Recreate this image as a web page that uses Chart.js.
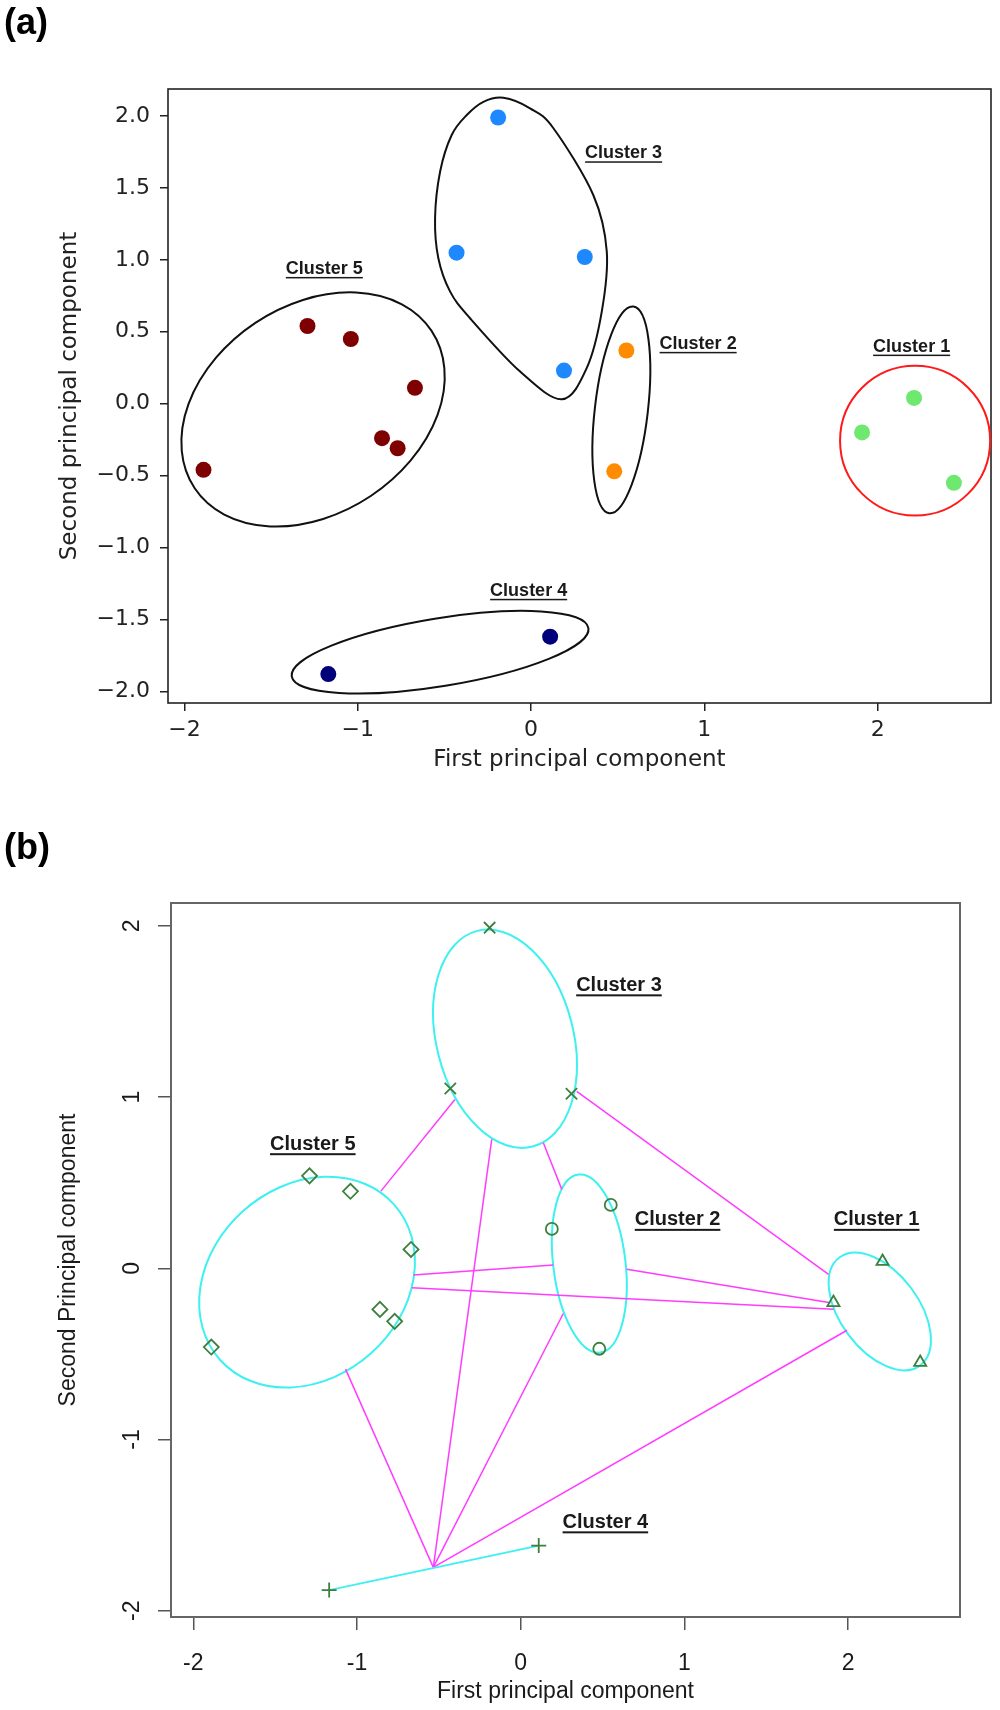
<!DOCTYPE html>
<html>
<head>
<meta charset="utf-8">
<title>PCA clusters</title>
<script src="https://cdn.jsdelivr.net/npm/chart.js@4.4.1/dist/chart.umd.min.js"></script>
<style>
  html, body { margin: 0; padding: 0; background: #fff; }
  #wrap { width: 1000px; height: 1710px; }
  canvas { display: block; }
</style>
</head>
<body>
<div id="wrap">
  <canvas id="panelA" width="1000" height="790"></canvas>
  <canvas id="panelB" width="1000" height="920"></canvas>
</div>
<script>
// scores on the first two principal components, one entry per sample
const pc1 = [2.21, 1.91, 2.44, 0.55, 0.48, 0.19, -0.19, -0.43, 0.31, -1.17, 0.11, -1.29, -1.04, -0.67, -0.86, -0.77, -1.89];
const pc2 = [0.04, -0.20, -0.55, 0.37, -0.47, 0.23, 1.99, 1.05, 1.02, -1.88, -1.62, 0.54, 0.45, 0.11, -0.24, -0.31, -0.46];

// cluster of each sample in (a) and in (b)
const clusterA = [1, 1, 1, 2, 2, 3, 3, 3, 3, 4, 4, 5, 5, 5, 5, 5, 5];
const clusterB = [1, 1, 1, 2, 2, 2, 3, 3, 3, 4, 4, 5, 5, 5, 5, 5, 5];
const clusterNames = ['Cluster 1', 'Cluster 2', 'Cluster 3', 'Cluster 4', 'Cluster 5'];

const ticksAx = [-2, -1, 0, 1, 2];
const ticksAy = [-2, -1.5, -1, -0.5, 0, 0.5, 1, 1.5, 2];
const ticksBx = [-2, -1, 0, 1, 2];
const ticksBy = [-2, -1, 0, 1, 2];

// (a) outlines drawn round the clusters: cluster, centre x, centre y, semi-axis u (x, y), semi-axis v (x, y)
const outlineA = [
  [1, 2.216, -0.257, 0.433, 0, 0, 0.521],
  [2, 0.521, -0.043, 0.069, 0.718, 0.152, -0.021],
  [4, -0.525, -1.728, 0.856, 0.168, 0.031, -0.233],
  [5, -1.258, -0.040, 0.683, 0.548, -0.333, 0.602]
];
// (a) the cluster 3 outline is egg shaped, traced point by point
const outline3x = [-0.160, -0.006, 0.129, 0.359, 0.437, 0.408, 0.321, 0.177, -0.063, -0.352, -0.467, -0.535, -0.554, -0.525, -0.458, -0.371, -0.275];
const outline3y = [2.127, 2.054, 1.915, 1.451, 1.057, 0.640, 0.247, 0.031, 0.223, 0.594, 0.779, 1.011, 1.289, 1.613, 1.868, 2.007, 2.099];

// (b) clusplot ellipses: cluster, centre x, centre y, semi-axis u (x, y), semi-axis v (x, y)
const ellipseB = [
  [1, 2.193, -0.252, -0.247, 0.315, 0.191, 0.137],
  [2, 0.419, 0.028, -0.066, 0.520, 0.219, 0.025],
  [3, -0.096, 1.341, -0.169, 0.630, 0.405, 0.099],
  [5, -1.305, -0.081, 0.532, 0.453, 0.389, -0.417]
];
// (b) segments between the clusters: x1, y1, x2, y2
const linksB = [
  [-0.854, 0.451, -0.402, 0.986],   // 5 - 3
  [-0.656, -0.039, 0.199, 0.019],   // 5 - 2
  [-0.666, -0.113, 1.911, -0.239],  // 5 - 1
  [-0.534, -1.747, -1.070, -0.589], // 4 - 5
  [0.138, 0.733, 0.251, 0.461],     // 3 - 2
  [0.342, 1.034, 1.880, -0.035],    // 3 - 1
  [-0.534, -1.747, -0.177, 0.753],  // 4 - 3
  [0.648, -0.006, 1.891, -0.201],   // 2 - 1
  [-0.534, -1.747, 0.260, -0.264],  // 4 - 2
  [-0.534, -1.747, 1.993, -0.362]   // 4 - 1
];

// where the cluster names sit (centre of the text), clusters 1..5
const labelAx = [2.196, 0.964, 0.534, -0.014, -1.193];
const labelAy = [0.397, 0.416, 1.741, -1.301, 0.937];
const labelBx = [2.174, 0.958, 0.600, 0.517, -1.270];
const labelBy = [0.283, 0.283, 1.653, -1.484, 0.725];

// styles
const fontA = "'DejaVu Sans', sans-serif";
const fontB = "'Liberation Sans', Arial, sans-serif";
const colorsA = ['#6ee86e', '#ff8c00', '#1e88ff', '#00007a', '#7f0000'];
const outlineColorsA = { 1: '#ff1a1a', 2: '#111', 3: '#111', 4: '#111', 5: '#111' };
const markerB = {
  1: ['triangle', 7],
  2: ['circle', 6],
  3: ['crossRot', 8],
  4: ['cross', 7.5],
  5: ['rectRot', 7.5]
};
const greenB = '#3d7f3d';
const cyanB = '#3ef0f0';
const magentaB = '#ff3cff';
const sizeB = 23;

function minusSign(v) { return v < 0 ? '\u2212' : ''; }
function fmtA0(v) { return minusSign(v) + Math.abs(v); }
function fmtA1(v) { return minusSign(v) + Math.abs(v).toFixed(1); }
function fmtB(v) { return String(v); }

function pointsOf(clusters, c) {
  return pc1.map((v, i) => ({ x: v, y: pc2[i] })).filter((p, i) => clusters[i] === c);
}

// ---- drawing helpers used by the plugins ----
function strokeEllipse(chart, e, color, width) {
  const { ctx, scales: { x, y } } = chart;
  const [cx, cy, ux, uy, vx, vy] = e;
  const px = x.getPixelForValue(cx), py = y.getPixelForValue(cy);
  ctx.save();
  ctx.beginPath();
  ctx.transform(x.getPixelForValue(cx + ux) - px, y.getPixelForValue(cy + uy) - py,
                x.getPixelForValue(cx + vx) - px, y.getPixelForValue(cy + vy) - py, px, py);
  ctx.arc(0, 0, 1, 0, 2 * Math.PI);
  ctx.restore();
  ctx.save();
  ctx.strokeStyle = color;
  ctx.lineWidth = width;
  ctx.stroke();
  ctx.restore();
}

function strokeClosedCurve(chart, xs, ys, color, width) {
  const { ctx, scales: { x, y } } = chart;
  const pts = xs.map((v, i) => [x.getPixelForValue(v), y.getPixelForValue(ys[i])]);
  const n = pts.length;
  ctx.save();
  ctx.beginPath();
  ctx.moveTo(pts[0][0], pts[0][1]);
  for (let i = 0; i < n; i++) {
    const p0 = pts[(i - 1 + n) % n], p1 = pts[i], p2 = pts[(i + 1) % n], p3 = pts[(i + 2) % n];
    ctx.bezierCurveTo(p1[0] + (p2[0] - p0[0]) / 6, p1[1] + (p2[1] - p0[1]) / 6,
                      p2[0] - (p3[0] - p1[0]) / 6, p2[1] - (p3[1] - p1[1]) / 6,
                      p2[0], p2[1]);
  }
  ctx.closePath();
  ctx.strokeStyle = color;
  ctx.lineWidth = width;
  ctx.stroke();
  ctx.restore();
}

function drawClusterLabel(chart, text, vx, vy, font, size, gap, lw) {
  const { ctx, scales: { x, y } } = chart;
  const px = x.getPixelForValue(vx), py = y.getPixelForValue(vy);
  ctx.save();
  ctx.font = 'bold ' + size + 'px ' + font;
  ctx.fillStyle = '#1a1a1a';
  ctx.textAlign = 'center';
  ctx.textBaseline = 'middle';
  ctx.fillText(text, px, py);
  const w = ctx.measureText(text).width;
  ctx.fillRect(px - w / 2, py + gap, w, lw);
  ctx.restore();
}

function drawPanelLetter(chart, text, baseline) {
  const ctx = chart.ctx;
  ctx.save();
  ctx.font = "bold 36px 'Liberation Sans', Arial, sans-serif";
  ctx.fillStyle = '#000';
  ctx.textAlign = 'left';
  ctx.textBaseline = 'alphabetic';
  ctx.fillText(text, 4, baseline);
  ctx.restore();
}

function frame(chart, color, width) {
  const { ctx, chartArea: a } = chart;
  ctx.save();
  ctx.strokeStyle = color;
  ctx.lineWidth = width;
  ctx.strokeRect(a.left, a.top, a.right - a.left, a.bottom - a.top);
  ctx.restore();
}

// ---- panel (a) ----
const plotA = {
  id: 'plotA',
  beforeDatasetsDraw(chart) {
    frame(chart, '#222', 1.6);
    outlineA.forEach(o => strokeEllipse(chart, o.slice(1), outlineColorsA[o[0]], 2));
    strokeClosedCurve(chart, outline3x, outline3y, '#111', 2);
  },
  afterDraw(chart) {
    clusterNames.forEach((t, i) => drawClusterLabel(chart, t, labelAx[i], labelAy[i], fontB, 18, 8, 1.5));
    drawPanelLetter(chart, '(a)', 34);
  }
};

new Chart(document.getElementById('panelA'), {
  type: 'scatter',
  data: {
    datasets: [1, 2, 3, 4, 5].map(c => ({
      label: clusterNames[c - 1],
      data: pointsOf(clusterA, c),
      backgroundColor: colorsA[c - 1],
      borderWidth: 0,
      pointRadius: 8,
      pointHoverRadius: 8
    }))
  },
  options: {
    responsive: false,
    animation: false,
    layout: { autoPadding: false, padding: { left: 0, right: 9, top: 89, bottom: 7 } },
    plugins: { legend: { display: false }, tooltip: { enabled: false } },
    scales: {
      x: {
        type: 'linear', min: -2.095, max: 2.654,
        afterBuildTicks: s => { s.ticks = ticksAx.map(v => ({ value: v })); },
        afterFit: s => { s.height = 80; },
        ticks: { font: { family: fontA, size: 22 }, color: '#222', padding: 6, maxRotation: 0, autoSkip: false, callback: fmtA0 },
        grid: { drawOnChartArea: false, drawTicks: true, tickLength: 8, color: '#222', lineWidth: 1.5 },
        border: { display: false },
        title: { display: true, text: 'First principal component', color: '#222',
                 font: { family: fontA, size: 23, lineHeight: 1 }, padding: { top: 0, bottom: 11 } }
      },
      y: {
        type: 'linear', min: -2.081, max: 2.188,
        afterBuildTicks: s => { s.ticks = ticksAy.map(v => ({ value: v })); },
        afterFit: s => { s.width = 168; },
        ticks: { font: { family: fontA, size: 22 }, color: '#222', padding: 10, autoSkip: false, callback: fmtA1 },
        grid: { drawOnChartArea: false, drawTicks: true, tickLength: 8, color: '#222', lineWidth: 1.5 },
        border: { display: false },
        title: { display: true, text: 'Second principal component', color: '#222',
                 font: { family: fontA, size: 23, lineHeight: 1 }, padding: { top: 59, bottom: 0 } }
      }
    }
  },
  plugins: [plotA]
});

// ---- panel (b) ----
const plotB = {
  id: 'plotB',
  beforeDatasetsDraw(chart) {
    frame(chart, '#666', 2);
    ellipseB.forEach(e => strokeEllipse(chart, e.slice(1), cyanB, 2));
  },
  afterDraw(chart) {
    const { ctx, scales: { y } } = chart;
    // R draws the y tick labels parallel to the axis
    ctx.save();
    ctx.font = sizeB + 'px ' + fontB;
    ctx.fillStyle = '#1a1a1a';
    ctx.textAlign = 'center';
    ctx.textBaseline = 'alphabetic';
    ticksBy.forEach(v => {
      ctx.save();
      ctx.translate(y.right - 13 - 19.5, y.getPixelForValue(v));
      ctx.rotate(-Math.PI / 2);
      ctx.fillText(fmtB(v), 0, 0);
      ctx.restore();
    });
    ctx.restore();
    clusterNames.forEach((t, i) => drawClusterLabel(chart, t, labelBx[i], labelBy[i], fontB, 20, 9, 2));
    drawPanelLetter(chart, '(b)', 69);
  }
};

const markerSetsB = [1, 2, 3, 4, 5].map(c => {
  const base = {
    label: clusterNames[c - 1],
    data: pointsOf(clusterB, c),
    pointStyle: markerB[c][0],
    pointRadius: markerB[c][1],
    pointHoverRadius: markerB[c][1],
    pointBorderColor: greenB,
    pointBackgroundColor: 'rgba(0,0,0,0)',
    pointBorderWidth: 1.8,
    showLine: false
  };
  if (c === 4) {
    // two members only: clusplot joins them with a line instead of an ellipse
    return Object.assign(base, { showLine: true, borderColor: cyanB, borderWidth: 2 });
  }
  return base;
});

const linkSetsB = linksB.map(s => ({
  data: [{ x: s[0], y: s[1] }, { x: s[2], y: s[3] }],
  showLine: true,
  borderColor: magentaB,
  borderWidth: 1.5,
  pointRadius: 0,
  pointHoverRadius: 0
}));

new Chart(document.getElementById('panelB'), {
  type: 'scatter',
  data: { datasets: markerSetsB.concat(linkSetsB) },
  options: {
    responsive: false,
    animation: false,
    layout: { autoPadding: false, padding: { left: 0, right: 40, top: 113, bottom: 3 } },
    plugins: { legend: { display: false }, tooltip: { enabled: false } },
    scales: {
      x: {
        type: 'linear', min: -2.136, max: 2.683,
        afterBuildTicks: s => { s.ticks = ticksBx.map(v => ({ value: v })); },
        afterFit: s => { s.height = 90; },
        ticks: { font: { family: fontB, size: sizeB }, color: '#1a1a1a', padding: 20, maxRotation: 0, autoSkip: false, callback: fmtB },
        grid: { drawOnChartArea: false, drawTicks: true, tickLength: 13, color: '#555', lineWidth: 1.5 },
        border: { display: false },
        title: { display: true, text: 'First principal component', color: '#1a1a1a',
                 font: { family: fontB, size: sizeB, lineHeight: 1 }, padding: { top: 0, bottom: 4 } }
      },
      y: {
        type: 'linear', min: -2.037, max: 2.134,
        afterBuildTicks: s => { s.ticks = ticksBy.map(v => ({ value: v })); },
        afterFit: s => { s.width = 171; },
        ticks: { display: false },
        grid: { drawOnChartArea: false, drawTicks: true, tickLength: 13, color: '#555', lineWidth: 1.5 },
        border: { display: false },
        title: { display: true, text: 'Second Principal component', color: '#1a1a1a',
                 font: { family: fontB, size: sizeB, lineHeight: 1 }, padding: { top: 57, bottom: 0 } }
      }
    }
  },
  plugins: [plotB]
});
</script>
</body>
</html>
